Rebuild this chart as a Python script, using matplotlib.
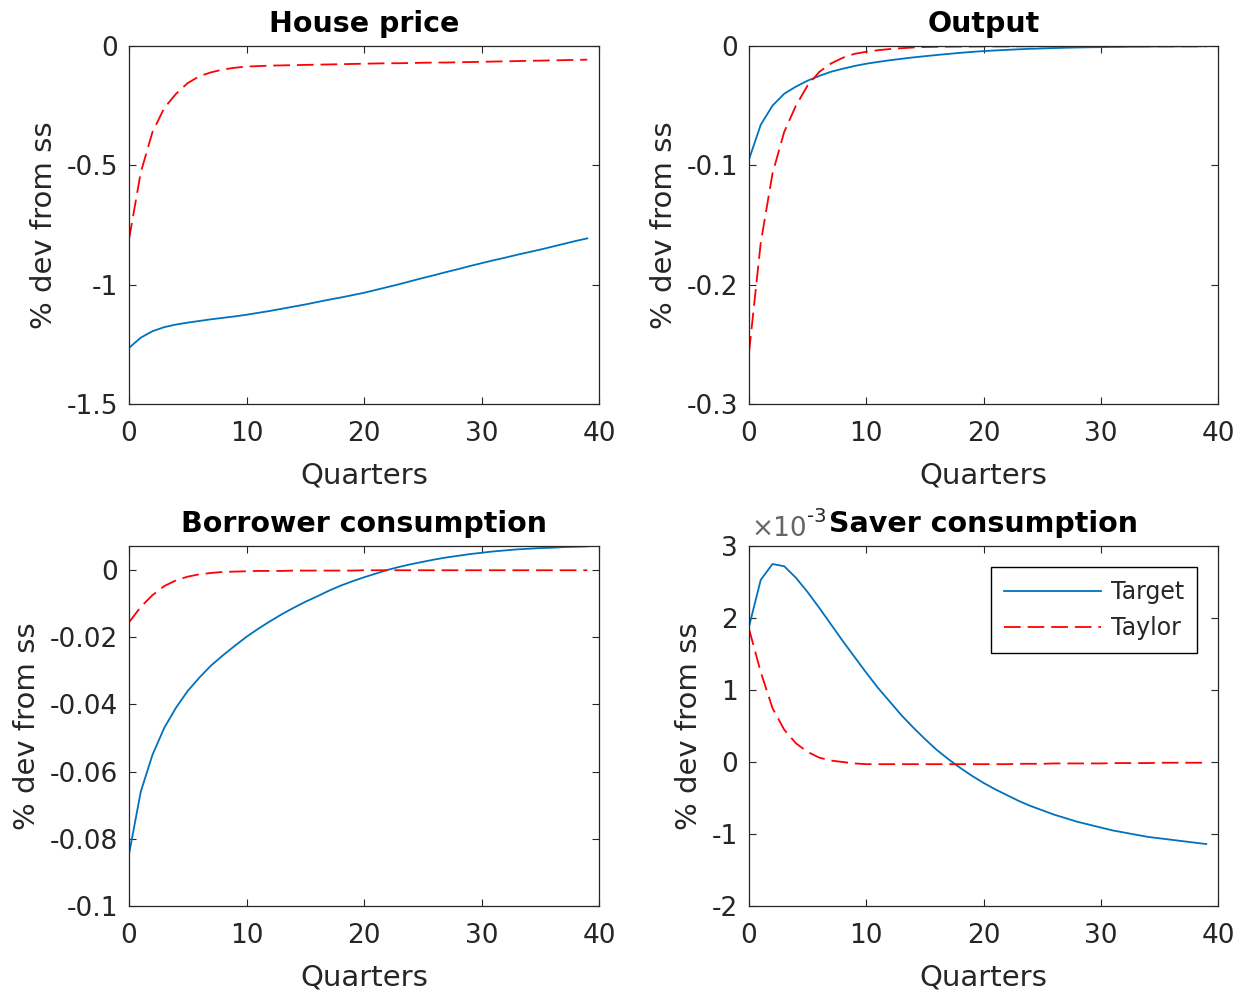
import numpy as np
import matplotlib
matplotlib.use("Agg")
import matplotlib.pyplot as plt
from matplotlib.ticker import FuncFormatter

plt.rcParams['font.family'] = ['DejaVu Sans']
plt.rcParams['axes.unicode_minus'] = False
plt.rcParams['lines.scale_dashes'] = False

quarters = np.arange(40)

# house price
house_target = [-1.265, -1.222, -1.195, -1.178, -1.167, -1.159, -1.152, -1.145, -1.139, -1.133,
                -1.126, -1.118, -1.110, -1.101, -1.092, -1.083, -1.073, -1.063, -1.054, -1.044,
                -1.034, -1.022, -1.010, -0.998, -0.985, -0.972, -0.960, -0.947, -0.935, -0.922,
                -0.910, -0.898, -0.887, -0.875, -0.864, -0.853, -0.841, -0.829, -0.817, -0.806]
house_taylor = [-0.81, -0.53, -0.36, -0.26, -0.20, -0.155, -0.126, -0.110, -0.098, -0.091,
                -0.086, -0.084, -0.082, -0.081, -0.080, -0.079, -0.078, -0.077, -0.076, -0.075,
                -0.074, -0.073, -0.072, -0.072, -0.071, -0.070, -0.069, -0.069, -0.068, -0.067,
                -0.066, -0.065, -0.064, -0.063, -0.062, -0.061, -0.060, -0.059, -0.058, -0.057]

# output
output_target = [-0.095, -0.066, -0.050, -0.040, -0.034, -0.029, -0.025, -0.0215, -0.019, -0.0167,
                 -0.0148, -0.0133, -0.0119, -0.0107, -0.0095, -0.0085, -0.0075, -0.0066, -0.0057, -0.0049,
                 -0.0042, -0.0037, -0.0032, -0.0027, -0.0023, -0.0020, -0.0017, -0.0014, -0.0012, -0.0010,
                 -0.0009, -0.0007, -0.0006, -0.0005, -0.0004, -0.0003, -0.0003, -0.0002, -0.0002, -0.0001]
output_taylor = [-0.257, -0.165, -0.107, -0.072, -0.050, -0.033, -0.0216, -0.0146, -0.0098, -0.0065,
                 -0.0048, -0.0035, -0.0025, -0.0018, -0.0012, -0.0008, -0.0006, -0.0005, -0.0004, -0.0004,
                 -0.0003, -0.0003, -0.0003, -0.0002, -0.0002, -0.0002, -0.0002, -0.0002, -0.0002, -0.0002,
                 -0.0002, -0.0002, -0.0002, -0.0002, -0.0002, -0.0002, -0.0002, -0.0002, -0.0002, -0.0002]

# borrower consumption
borrower_target = [-0.0846, -0.066, -0.055, -0.047, -0.041, -0.036, -0.032, -0.0284, -0.0254, -0.0226,
                   -0.0199, -0.0175, -0.0153, -0.0132, -0.0113, -0.0095, -0.0079, -0.0062, -0.0047, -0.0034,
                   -0.0022, -0.0011, 0.0000, 0.0009, 0.0017, 0.0024, 0.0031, 0.0037, 0.0042, 0.0047,
                   0.0051, 0.0055, 0.0058, 0.0061, 0.0063, 0.0065, 0.0066, 0.0068, 0.0069, 0.0070]
borrower_taylor = [-0.0156, -0.011, -0.0075, -0.0048, -0.0031, -0.0020, -0.0013, -0.0009, -0.0006, -0.0005,
                   -0.0004, -0.0003, -0.0003, -0.0003, -0.0002, -0.0002, -0.0002, -0.0002, -0.0002, -0.0002,
                   -0.0001, -0.0001, -0.0001, -0.0001, -0.0001, -0.0001, -0.0001, -0.0001, -0.0001, -0.0001,
                   -0.0001, -0.0001, -0.0001, -0.0001, -0.0001, -0.0001, -0.0001, -0.0001, -0.0001, -0.0001]

# saver consumption
saver_target = [1.88e-3, 2.53e-3, 2.75e-3, 2.72e-3, 2.56e-3, 2.36e-3, 2.14e-3, 1.91e-3, 1.68e-3, 1.46e-3,
                1.24e-3, 1.03e-3, 0.84e-3, 0.65e-3, 0.48e-3, 0.32e-3, 0.17e-3, 0.04e-3, -0.08e-3, -0.19e-3,
                -0.29e-3, -0.38e-3, -0.46e-3, -0.54e-3, -0.61e-3, -0.67e-3, -0.73e-3, -0.78e-3, -0.83e-3, -0.87e-3,
                -0.91e-3, -0.95e-3, -0.98e-3, -1.01e-3, -1.04e-3, -1.06e-3, -1.08e-3, -1.10e-3, -1.12e-3, -1.14e-3]
saver_taylor = [1.85e-3, 1.25e-3, 0.75e-3, 0.45e-3, 0.26e-3, 0.14e-3, 0.06e-3, 0.02e-3, 0.0, -0.02e-3,
                -0.03e-3, -0.03e-3, -0.03e-3, -0.03e-3, -0.03e-3, -0.03e-3, -0.03e-3, -0.03e-3, -0.03e-3, -0.03e-3,
                -0.03e-3, -0.03e-3, -0.03e-3, -0.025e-3, -0.025e-3, -0.025e-3, -0.02e-3, -0.02e-3, -0.02e-3, -0.02e-3,
                -0.02e-3, -0.015e-3, -0.015e-3, -0.015e-3, -0.015e-3, -0.01e-3, -0.01e-3, -0.01e-3, -0.01e-3, -0.01e-3]

titles = ["House price", "Output", "Borrower consumption", "Saver consumption"]
targets = [house_target, output_target, borrower_target, saver_target]
taylors = [house_taylor, output_taylor, borrower_taylor, saver_taylor]
ylims = [(-1.5, 0), (-0.3, 0), (-0.1, 0.0071), (-2e-3, 3e-3)]
yticks = [[-1.5, -1, -0.5, 0], [-0.3, -0.2, -0.1, 0],
          [-0.1, -0.08, -0.06, -0.04, -0.02, 0], [-2e-3, -1e-3, 0, 1e-3, 2e-3, 3e-3]]
yticklabels = [["-1.5", "-1", "-0.5", "0"], ["-0.3", "-0.2", "-0.1", "0"],
               ["-0.1", "-0.08", "-0.06", "-0.04", "-0.02", "0"], None]

positions = [[0.1032, 0.5948, 0.376, 0.359], [0.5992, 0.5948, 0.3752, 0.359],
             [0.1032, 0.0913, 0.376, 0.361], [0.5992, 0.0913, 0.3752, 0.361]]

dark = (0.15, 0.15, 0.15)
blue = (0, 0.447, 0.741)

fig = plt.figure(figsize=(12.5, 9.97), dpi=100)
for i in range(4):
    ax = fig.add_axes(positions[i])
    ax.plot(quarters, targets[i], color=blue, linewidth=1.3, label="Target")
    ax.plot(quarters, taylors[i], color="red", linewidth=1.3, linestyle=(0, (12, 5)), label="Taylor")
    ax.set_xlim(0, 40)
    ax.set_ylim(*ylims[i])
    ax.set_xticks([0, 10, 20, 30, 40])
    ax.set_yticks(yticks[i])
    if yticklabels[i] is not None:
        ax.set_yticklabels(yticklabels[i])
    else:
        # MATLAB style exponent label
        ax.yaxis.set_major_formatter(FuncFormatter(lambda v, p: "%g" % round(v * 1e3, 6)))
        ex = ax.text(0.005, 1.012, "×10", transform=ax.transAxes, fontsize=19,
                     color=(0.4, 0.4, 0.4), ha="left", va="bottom")
        ax.annotate("-3", xy=(1, 0.62), xycoords=ex, fontsize=14, color=dark,
                    ha="left", va="bottom")
    ax.tick_params(direction="in", top=True, right=True, length=5, width=0.8,
                   labelsize=19, colors=dark)
    ax.tick_params(axis="x", pad=12)
    ax.tick_params(axis="y", pad=8)
    for sp in ax.spines.values():
        sp.set_color(dark)
        sp.set_linewidth(0.9)
    ax.set_title(titles[i], fontsize=20.5, fontweight="bold", pad=10)
    ax.set_xlabel("Quarters", fontsize=21, color=dark, labelpad=11)
    ax.set_ylabel("% dev from ss", fontsize=21, color=dark, labelpad=6)
    if i == 3:
        leg = ax.legend(loc="upper right", fontsize=17, handlelength=4.1, fancybox=False,
                        edgecolor="black", framealpha=1, borderaxespad=0.9, labelspacing=0.5,
                        handletextpad=0.4, borderpad=0.55)
        leg.get_frame().set_linewidth(1.0)
        for t in leg.get_texts():
            t.set_color(dark)

fig.savefig("out.png", dpi=100, facecolor="white")
